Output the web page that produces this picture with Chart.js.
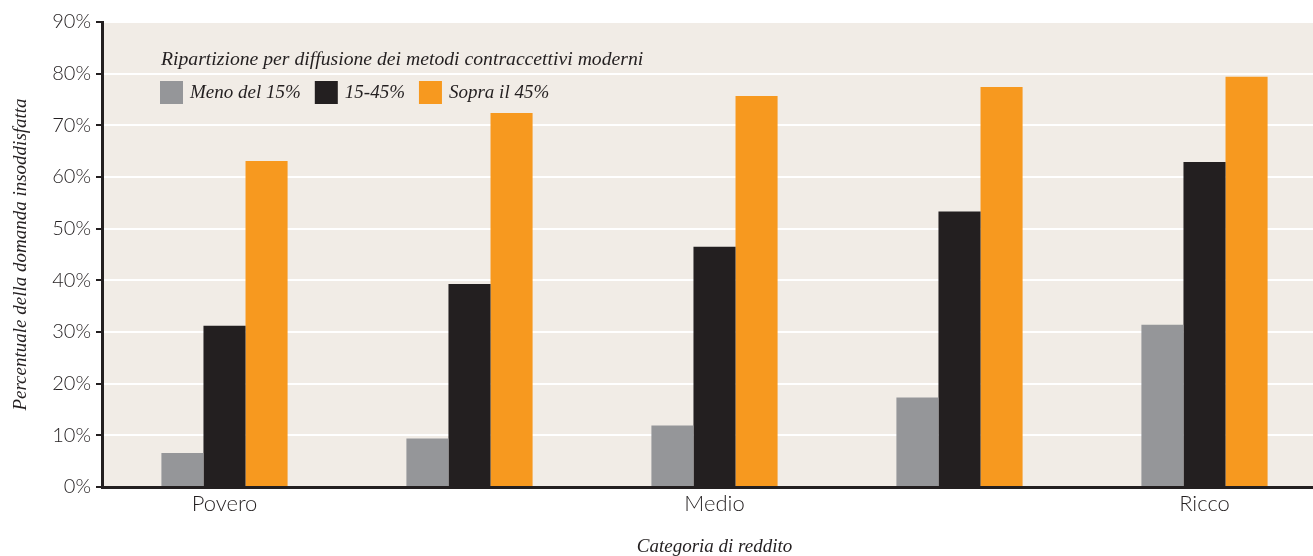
<!DOCTYPE html>
<html lang="it">
<head>
<meta charset="utf-8">
<title>Domanda insoddisfatta per categoria di reddito</title>
<script src="https://cdn.jsdelivr.net/npm/chart.js@4.4.1/dist/chart.umd.min.js"></script>
<style>
  html, body { margin: 0; padding: 0; background: #fff; overflow: hidden; }
  #wrap { width: 1327px; height: 556px; position: relative; }
</style>
</head>
<body>
<div id="wrap"><canvas id="chart"></canvas></div>
<script>
// ===== DATA =====
const categories = ['Povero', '', 'Medio', '', 'Ricco'];
const seriesNames = ['Meno del 15%', '15-45%', 'Sopra il 45%'];
const lowValues = [6.6, 9.4, 11.9, 17.3, 31.4];
const midValues = [31.2, 39.3, 46.5, 53.3, 62.9];
const highValues = [63.1, 72.4, 75.7, 77.4, 79.4];
const yTicks = [0, 10, 20, 30, 40, 50, 60, 70, 80, 90];
const legendTitle = 'Ripartizione per diffusione dei metodi contraccettivi moderni';

const INK = '#231f20';
const BG = '#f1ece6';
const serif = "'Liberation Serif', 'DejaVu Serif', serif";
const sans = "Lato, 'Open Sans', sans-serif";

// beige plot background
const plotBackground = {
  id: 'plotBackground',
  beforeDraw(chart) {
    const { ctx, chartArea: a } = chart;
    ctx.save();
    ctx.fillStyle = BG;
    ctx.fillRect(a.left, a.top, a.right - a.left, a.bottom - a.top);
    ctx.restore();
  }
};

// legend drawn inside the plot, under its title
const insideLegend = {
  id: 'insideLegend',
  afterDatasetsDraw(chart) {
    const { ctx } = chart;
    ctx.save();
    ctx.fillStyle = INK;
    ctx.textBaseline = 'middle';
    ctx.font = 'italic 19.7px ' + serif;
    ctx.fillText(legendTitle, 161, 60);
    ctx.font = 'italic 19px ' + serif;
    let x = 160;
    chart.data.datasets.forEach(ds => {
      ctx.fillStyle = ds.backgroundColor;
      ctx.fillRect(x, 81, 23, 23);
      ctx.fillStyle = INK;
      ctx.fillText(ds.label, x + 30, 93);
      x += 30 + ctx.measureText(ds.label).width + 14;
    });
    ctx.restore();
  }
};

new Chart(document.getElementById('chart'), {
  type: 'bar',
  data: {
    labels: categories,
    datasets: [
      { label: seriesNames[0], data: lowValues, backgroundColor: '#959699' },
      { label: seriesNames[1], data: midValues, backgroundColor: INK },
      { label: seriesNames[2], data: highValues, backgroundColor: '#f7991f' }
    ].map(ds => ({ ...ds, borderWidth: 0, barPercentage: 1, categoryPercentage: 0.515 }))
  },
  options: {
    responsive: true,
    maintainAspectRatio: false,
    animation: false,
    layout: { padding: { top: 22, right: 0, left: 0, bottom: 0 } },
    plugins: {
      legend: { display: false },
      tooltip: { enabled: false }
    },
    scales: {
      x: {
        grid: { display: false, drawTicks: false },
        border: { color: INK, width: 3 },
        ticks: { font: { family: sans, size: 22, weight: 300 }, color: INK, padding: 4 },
        title: {
          display: true,
          text: 'Categoria di reddito',
          font: { family: serif, size: 19, style: 'italic', lineHeight: 1 },
          color: INK,
          padding: { top: 14, bottom: 0 }
        },
        afterFit: s => { s.height = 69; }
      },
      y: {
        min: 0,
        max: 90,
        afterBuildTicks: s => { s.ticks = yTicks.map(v => ({ value: v })); },
        grid: { color: '#ffffff', lineWidth: 2, tickColor: INK, tickLength: 6, tickWidth: 2 },
        border: { color: INK, width: 3 },
        ticks: {
          font: { family: sans, size: 20, weight: 300 },
          color: INK,
          padding: 5,
          callback: v => v + '%'
        },
        title: {
          display: true,
          text: 'Percentuale della domanda insoddisfatta',
          font: { family: serif, size: 19, style: 'italic', lineHeight: 1 },
          color: INK,
          padding: { top: 11, bottom: 0 }
        },
        afterFit: s => { s.width = 102; }
      }
    }
  },
  plugins: [plotBackground, insideLegend]
});
</script>
</body>
</html>
